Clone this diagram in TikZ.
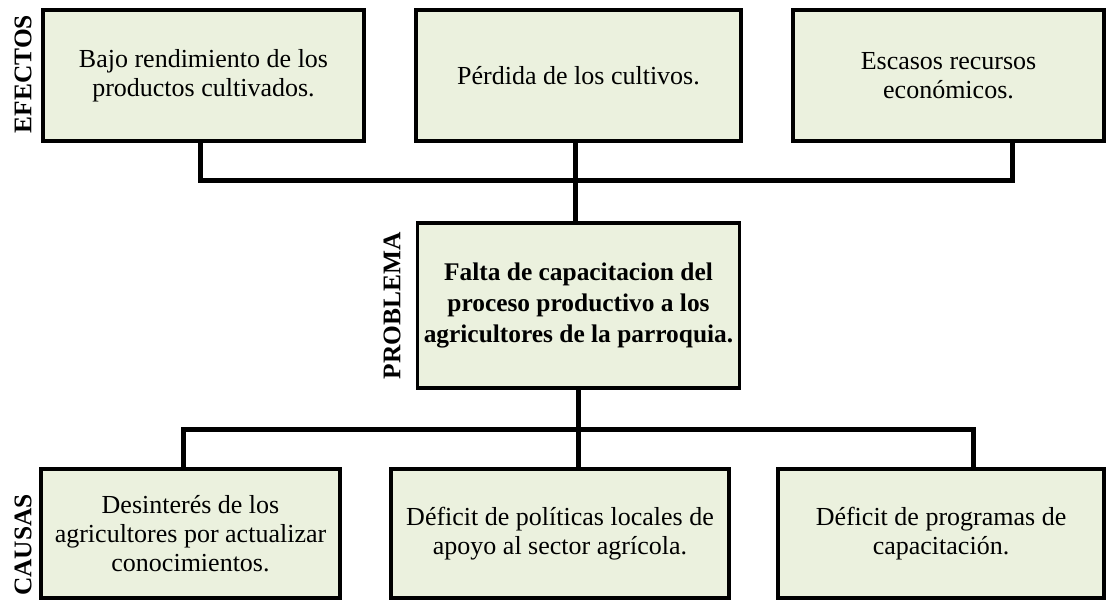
\documentclass[tikz,border=0pt]{standalone}
\usepackage{fontspec}
\setmainfont{Liberation Serif}
\usepackage{xcolor}
\usepackage{tikz}
\usetikzlibrary{positioning}

\definecolor{boxfill}{HTML}{EBF1DE}

\begin{document}
\begin{tikzpicture}[
  x=1pt, y=-1pt,
  font=\fontsize{13}{14.6}\selectfont,
  box/.style={draw, line width=1.6pt, outer sep=0pt, fill=boxfill, align=center, minimum height=65.5pt, inner sep=2pt},
  prob/.style={box, font=\fontsize{12.7}{15.6}\selectfont\bfseries, minimum height=82.5pt},
  side/.style={rotate=90, font=\fontsize{12.7}{15}\selectfont\bfseries, inner sep=0pt},
  link/.style={line width=2.5pt, line join=miter}]
\useasboundingbox (0,0) rectangle (553.5,300);
% efectos
\node[box, anchor=north west, minimum width=160.5pt] (ef1) at (21.5,5) {Bajo rendimiento de los\\productos cultivados.};
\node[box, right=26pt of ef1, minimum width=162.5pt] (ef2) {Pérdida de los cultivos.};
\node[box, right=26pt of ef2, minimum width=155.5pt] (ef3) {Escasos recursos\\económicos.};
% problema
\node[prob, below=41pt of ef2, minimum width=161pt] (prob) {Falta de capacitacion del\\proceso productivo a los\\agricultores de la parroquia.};
% causas
\node[box, anchor=north west, minimum width=149.5pt, minimum height=64.5pt] (ca1) at (20.5,234.5) {Desinterés de los\\agricultores por actualizar\\conocimientos.};
\node[box, right=25.5pt of ca1, minimum width=169pt, minimum height=64.5pt] (ca2) {Déficit de políticas locales de\\apoyo al sector agrícola.};
\node[box, right=24.5pt of ca2, minimum width=163pt, minimum height=64.5pt] (ca3) {Déficit de programas de\\capacitación.};
% rotulos
\node[side] (lefec) at (11.5,37) {EFECTOS};
\node[side] (lprob) at (196,153) {PROBLEMA};
\node[side] (lcaus) at (11.5,272.5) {CAUSAS};
% uniones
\coordinate (topl) at (100,90);
\coordinate (topr) at (506,90);
\coordinate (topm) at (287.5,90);
\coordinate (botl) at (91.5,214.5);
\coordinate (botr) at (486.5,214.5);
\draw[link] (ef1.south -| topl) -- (topl) -- (topr) -- (ef3.south -| topr);
\draw[link] (ef2.south -| topm) -- (prob.north -| topm);
\draw[link] (ca1.north -| botl) -- (botl) -- (botr) -- (ca3.north -| botr);
\draw[link] (prob.south) -- (prob.south |- ca2.north);
\end{tikzpicture}
\end{document}
